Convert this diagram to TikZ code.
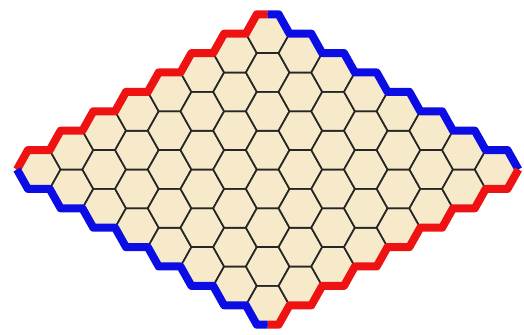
\documentclass[tikz,border=0pt]{standalone}
\definecolor{boardfill}{RGB}{247,234,203}
\definecolor{hexred}{RGB}{238,18,18}
\definecolor{hexblue}{RGB}{12,12,228}
\newcommand{\hexw}{21.8}
\newcommand{\hexh}{19.4}
\begin{document}
\begin{tikzpicture}[x=0.5pt,y=0.5pt,
  cell/.style={draw=black!85,line width=0.85pt,fill=boardfill,line join=round},
  redside/.style={draw=hexred,line width=4pt,line join=round},
  blueside/.style={draw=hexblue,line width=4pt,line join=round}]
\useasboundingbox (0,0) rectangle (524,335);
% cell centres
\foreach \i in {0,...,7}
  \foreach \j in {0,...,7}
    \coordinate (c-\i-\j) at ({38.8+32.7*(\i+\j)},{165.5+19.4*(\i-\j)});
\foreach \i in {0,...,7}
  \foreach \j in {0,...,7}
    \draw[cell] (c-\i-\j) ++(-\hexw,0) -- ++(\hexw/2,\hexh) -- ++(\hexw,0) -- ++(\hexw/2,-\hexh)
      -- ++(-\hexw/2,-\hexh) -- ++(-\hexw,0) -- cycle;
% borders
\draw[redside] (c-0-0) ++(-\hexw,0) \foreach \k in {1,...,7}{ -- ++(\hexw/2,\hexh) -- ++(\hexw,0) }
  -- ++(\hexw/2,\hexh) -- ++(\hexw/2,0);
\draw[blueside] (c-7-0) ++(0,\hexh) -- ++(\hexw/2,0) -- ++(\hexw/2,-\hexh)
  \foreach \k in {1,...,7}{ -- ++(\hexw,0) -- ++(\hexw/2,-\hexh) };
\draw[redside] (c-7-7) ++(\hexw,0) \foreach \k in {1,...,7}{ -- ++(-\hexw/2,-\hexh) -- ++(-\hexw,0) }
  -- ++(-\hexw/2,-\hexh) -- ++(-\hexw/2,0);
\draw[blueside] (c-0-0) ++(-\hexw,0) \foreach \k in {1,...,7}{ -- ++(\hexw/2,-\hexh) -- ++(\hexw,0) }
  -- ++(\hexw/2,-\hexh) -- ++(\hexw/2,0);
\end{tikzpicture}
\end{document}
